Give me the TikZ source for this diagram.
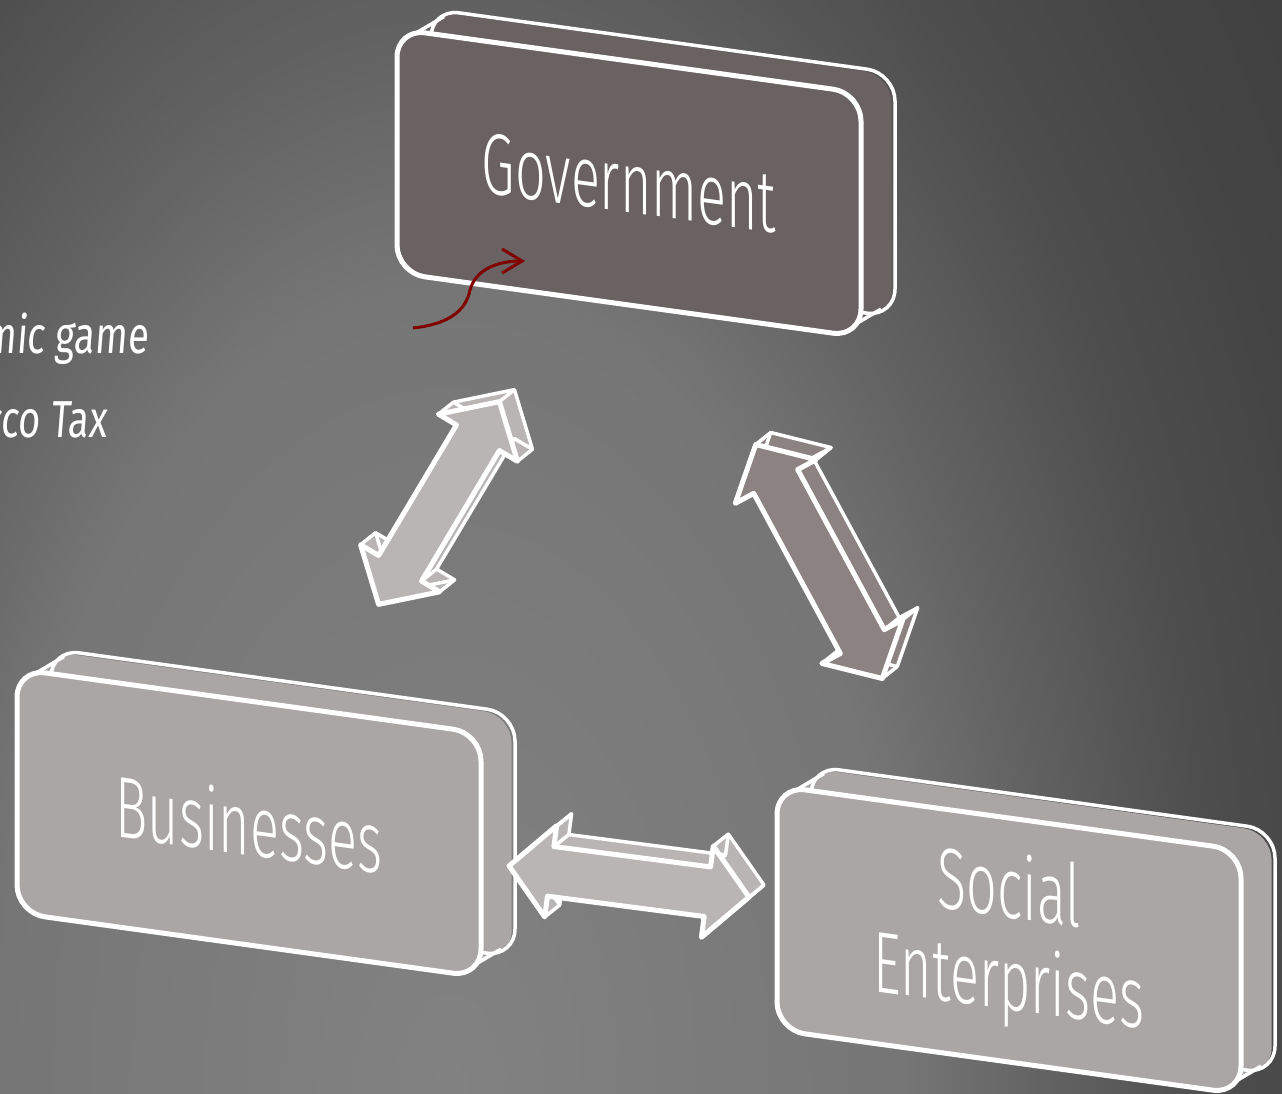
\documentclass[tikz,border=0pt]{standalone}
\usepackage{fontspec}
\usetikzlibrary{arrows.meta,calc}

\newfontfamily\boxfont{Fira Sans Light}[FakeStretch=0.62]
\newfontfamily\notefont{Fira Sans}[FakeStretch=0.73, FakeSlant=0.08]

\definecolor{govfill}{RGB}{106,98,98}
\definecolor{slabfill}{RGB}{171,166,166}
\definecolor{arrowlight}{RGB}{186,181,181}
\definecolor{arrowdark}{RGB}{140,130,130}
\definecolor{curlred}{RGB}{128,0,0}
\definecolor{glow0}{RGB}{130,130,130}
\definecolor{glow1}{RGB}{118,118,118}
\definecolor{glow2}{RGB}{100,100,100}
\definecolor{glow3}{RGB}{78,78,78}
\definecolor{glow4}{RGB}{69,69,69}
\definecolor{glow5}{RGB}{63,63,63}

% the path's bounding box sits at 25bp
\pgfdeclareradialshading{backglow}{\pgfpoint{0bp}{0bp}}{%
  color(0bp)=(glow0); color(10.5bp)=(glow1); color(13.5bp)=(glow2);
  color(17.7bp)=(glow3); color(21bp)=(glow4); color(25bp)=(glow5);
  color(50bp)=(glow5)}

% #1 front top-left corner, #2 fill style, #3 node name, #4 label
\newcommand\slab[4]{%
  \begin{scope}[shift={#1}, yslant=-0.138]
    \foreach \s in {0,0.1,...,1}
      \fill[#2, rounded corners=28pt] (34*\s,-24.7*\s) rectangle ++(464,244);
    \draw[thinedge, rounded corners=28pt] (34,-24.7) rectangle ++(464,244);
    \draw[thinedge] (13,5.8) -- ++(34,-24.7) (450,238) -- ++(34,-24.7);
    \draw[#2, thickedge, rounded corners=28pt] (0,0) rectangle (464,244);
    \node[boxtext] (#3) at (232,122) {#4};
  \end{scope}}

% #1 centre, #2 angle, #3 half length, #4 fill style
\newcommand\blockarrow[4]{%
  \def\arrowshape{(#3,0) -- (#3-42,46) -- (#3-42,25) -- (42-#3,25) -- (42-#3,46)
    -- (-#3,0) -- (42-#3,-46) -- (42-#3,-25) -- (#3-42,-25) -- (#3-42,-46) -- cycle}
  \begin{scope}[shift={#1}]
    \foreach \s in {0,0.1,...,1}
      \fill[#4, shift={(15*\s,-12*\s)}, rotate=#2] \arrowshape;
    \draw[thinedge, shift={(15,-12)}, rotate=#2] \arrowshape;
    \foreach \u/\v in {#3/0, #3-42/46, #3-42/25, 42-#3/25, 42-#3/46, -#3/0,
                       42-#3/-46, 42-#3/-25, #3-42/-25, #3-42/-46}
      \draw[thinedge] ([rotate=#2]\u,\v) -- ([shift={(15,-12)}, rotate=#2]\u,\v);
    \draw[#4, thickedge, rotate=#2] \arrowshape;
  \end{scope}}

\begin{document}
\begin{tikzpicture}[x=1pt, y=-1pt,
    thickedge/.style={draw=white, line width=5pt, line join=round},
    thinedge/.style={draw=white, line width=3.5pt, line join=round},
    govslab/.style={fill=govfill},
    slab/.style={fill=slabfill},
    lightarrow/.style={fill=arrowlight},
    darkarrow/.style={fill=arrowdark},
    boxtext/.style={text=white, font=\boxfont\fontsize{87}{92}\selectfont,
      align=center, inner sep=0pt, transform shape},
    note/.style={text=white, font=\notefont\fontsize{52}{60}\selectfont,
      inner sep=0pt, anchor=base east}]
  \useasboundingbox (0,0) rectangle (1282,1094);
  \fill[glow5] (0,0) rectangle (1282,1094);
  \begin{scope}
    \clip (0,0) rectangle (1282,1094);
    \shade[shading=backglow] (450,1094) ellipse [x radius=1080pt, y radius=1920pt];
    \node[note] (game) at (148,353) {mic game};
    \node[note] (tax) at (107,437) {cco Tax};
  \end{scope}

  \slab{(397,29)}{govslab}{gov}{Government}
  \slab{(17,669)}{slab}{bus}{Businesses}
  \slab{(777,786)}{slab}{soc}{Social\\Enterprises}

  \blockarrow{($(gov)!.5!(bus)$)}{59.2}{118}{lightarrow}
  \blockarrow{($(bus)!.5!(soc)$)}{-7.4}{121}{lightarrow}
  \blockarrow{($(gov)!.5!(soc)$)}{-61.6}{133}{darkarrow}

  \coordinate (curl start) at (413,328);
  \coordinate (curl end) at (525,261);
  \draw[curlred, line width=3pt, -{Straight Barb[length=20pt, width=24pt]}]
    (curl start) .. controls (450,324) and (466,310) .. (470,290)
    .. controls (476,268) and (500,261) .. (curl end);
\end{tikzpicture}
\end{document}
